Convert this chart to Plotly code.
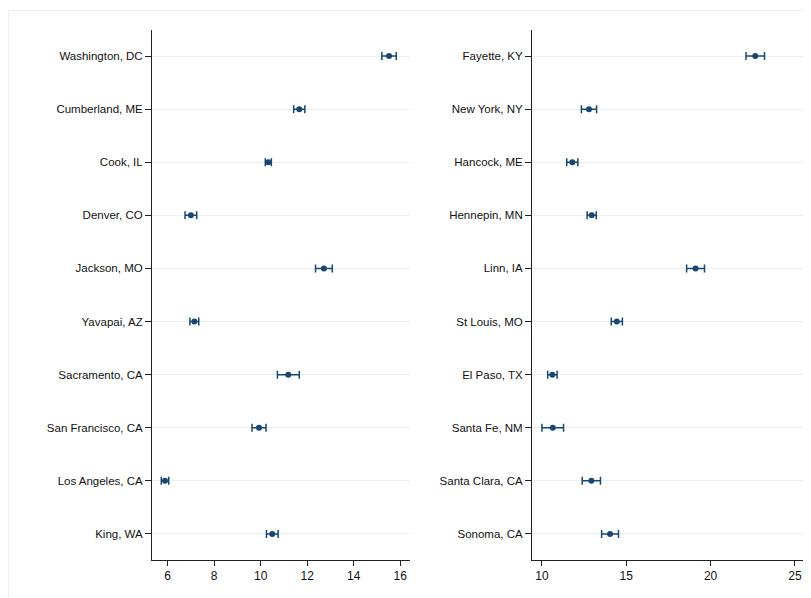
import plotly.graph_objects as go
from plotly.subplots import make_subplots

left_labels = ["Washington, DC", "Cumberland, ME", "Cook, IL", "Denver, CO", "Jackson, MO",
               "Yavapai, AZ", "Sacramento, CA", "San Francisco, CA", "Los Angeles, CA", "King, WA"]
left_est = [15.52, 11.66, 10.33, 7.00, 12.72, 7.15, 11.19, 9.93, 5.89, 10.50]
left_err = [0.31, 0.24, 0.13, 0.25, 0.36, 0.19, 0.47, 0.30, 0.16, 0.25]

right_labels = ["Fayette, KY", "New York, NY", "Hancock, ME", "Hennepin, MN", "Linn, IA",
                "St Louis, MO", "El Paso, TX", "Santa Fe, NM", "Santa Clara, CA", "Sonoma, CA"]
right_est = [22.65, 12.79, 11.80, 12.95, 19.11, 14.44, 10.62, 10.64, 12.93, 14.04]
right_err = [0.55, 0.45, 0.33, 0.27, 0.53, 0.33, 0.28, 0.64, 0.54, 0.50]

left_ticks = [6, 8, 10, 12, 14, 16]
right_ticks = [10, 15, 20, 25]

W, H = 803, 590
navy = "#1a476f"
grid = "#e9f0f2"
font = "Liberation Sans, Arial, Helvetica, sans-serif"

fig = make_subplots(rows=1, cols=2)

for col, labels, est, err in [(1, left_labels, left_est, left_err),
                              (2, right_labels, right_est, right_err)]:
    pos = list(range(len(labels)))
    fig.add_trace(go.Scatter(
        x=est, y=pos, mode="markers",
        marker=dict(color=navy, size=6),
        error_x=dict(type="data", array=err, visible=True, color=navy,
                     thickness=1.5, width=4),
        showlegend=False, hoverinfo="x+y"), row=1, col=col)
    fig.update_yaxes(tickmode="array", tickvals=pos, ticktext=labels,
                     range=[9.49, -0.49], showgrid=True, gridcolor=grid, gridwidth=1.2,
                     showline=True, linecolor="#222", linewidth=1,
                     ticks="outside", ticklen=6, tickcolor="#222", zeroline=False,
                     tickfont=dict(family=font, size=11.5, color="#111"),
                     row=1, col=col)

fig.update_xaxes(tickmode="array", tickvals=left_ticks, range=[5.33, 16.42],
                 row=1, col=1)
fig.update_xaxes(tickmode="array", tickvals=right_ticks, range=[9.41, 25.6],
                 row=1, col=2)
fig.update_xaxes(showgrid=False, zeroline=False, showline=True, linecolor="#222",
                 linewidth=1, ticks="outside", ticklen=5, tickcolor="#222",
                 tickfont=dict(family=font, size=12, color="#111"))

fig.update_layout(
    width=W, height=H,
    margin=dict(l=0, r=0, t=0, b=0),
    paper_bgcolor="white", plot_bgcolor="white",
    font=dict(family=font, size=12, color="#111"),
    xaxis=dict(domain=[144 / W, 402 / W]),
    xaxis2=dict(domain=[524 / W, 797 / W]),
    yaxis=dict(domain=[1 - 552 / H, 1 - 22 / H]),
    yaxis2=dict(domain=[1 - 552 / H, 1 - 22 / H]),
    shapes=[dict(type="rect", xref="paper", yref="paper",
                 x0=0.5 / W, x1=1.05, y0=-0.05, y1=1 - 2.5 / H,
                 line=dict(color="#eeeeee", width=1), layer="below")],
)

fig.write_html("out.html")
